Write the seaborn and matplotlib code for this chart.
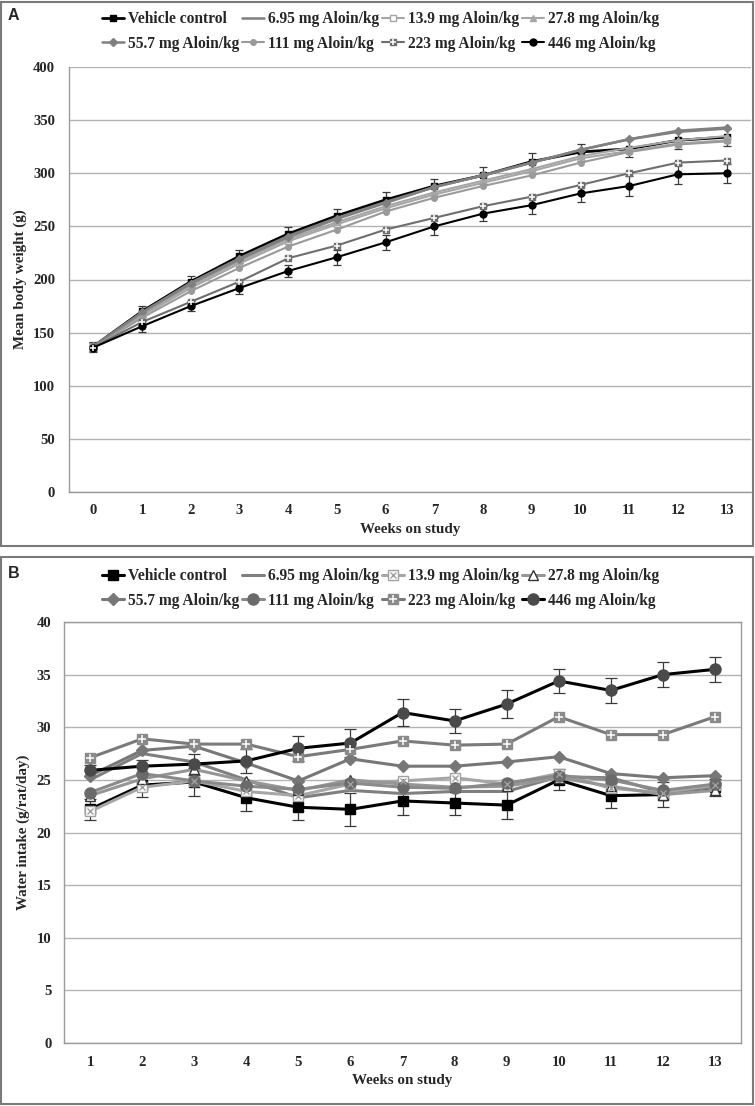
import matplotlib
matplotlib.use("Agg")
import matplotlib.pyplot as plt
import seaborn as sns
from matplotlib.patches import Rectangle
from matplotlib.legend_handler import HandlerTuple

# ---------------- data ----------------
groups = ["Vehicle control", "6.95 mg Aloin/kg", "13.9 mg Aloin/kg", "27.8 mg Aloin/kg",
          "55.7 mg Aloin/kg", "111 mg Aloin/kg", "223 mg Aloin/kg", "446 mg Aloin/kg"]

weeks_a = [0, 1, 2, 3, 4, 5, 6, 7, 8, 9, 10, 11, 12, 13]
bw_vehicle = [137, 170, 198, 222, 243, 260, 275, 288, 298, 311, 320, 323, 331, 334]
bw_695 = [137, 169, 197, 220, 241, 258, 273, 287, 298, 310, 322, 332, 339, 342]
bw_139 = [137, 166, 192, 215, 236, 252, 267, 280, 291, 302, 314, 321, 328, 331]
bw_278 = [137, 167, 194, 217, 238, 254, 269, 282, 293, 304, 316, 324, 331, 335]
bw_557 = [137, 169, 196, 219, 240, 257, 272, 287, 298, 310, 322, 332, 340, 343]
bw_111 = [136, 164, 189, 211, 231, 247, 264, 277, 288, 298, 310, 320, 327, 330]
bw_223 = [136, 160, 179, 198, 220, 232, 247, 258, 269, 278, 289, 300, 310, 312]
bw_446 = [136, 156, 175, 192, 208, 221, 235, 250, 262, 270, 281, 288, 299, 300]
bw_sem_vehicle = [4, 5, 5, 6, 6, 6, 7, 7, 8, 8, 8, 8, 8, 8]
bw_sem_446 = [4, 5, 5, 6, 6, 7, 7, 8, 7, 8, 8, 9, 9, 9]

weeks_b = [1, 2, 3, 4, 5, 6, 7, 8, 9, 10, 11, 12, 13]
wi_vehicle = [22.2, 24.5, 24.8, 23.3, 22.4, 22.2, 23.0, 22.8, 22.6, 25.0, 23.5, 23.6, 24.3]
wi_695 = [25.0, 27.5, 26.7, 25.0, 23.3, 24.0, 23.7, 23.9, 23.9, 25.3, 25.2, 23.8, 24.3]
wi_139 = [22.0, 24.3, 24.9, 23.9, 23.5, 24.6, 24.9, 25.2, 24.6, 25.6, 24.2, 23.8, 24.5]
wi_278 = [23.5, 25.1, 26.0, 24.9, 24.0, 25.0, 24.6, 24.3, 24.4, 25.2, 24.4, 23.6, 24.0]
wi_557 = [25.4, 27.8, 28.2, 26.6, 24.9, 27.0, 26.3, 26.3, 26.7, 27.2, 25.6, 25.2, 25.4]
wi_111 = [23.8, 25.6, 24.9, 24.4, 24.1, 24.7, 24.3, 24.2, 24.7, 25.4, 25.0, 24.0, 24.6]
wi_223 = [27.1, 28.9, 28.4, 28.4, 27.2, 27.9, 28.7, 28.3, 28.4, 31.0, 29.3, 29.3, 31.0]
wi_446 = [25.9, 26.3, 26.5, 26.8, 28.0, 28.5, 31.4, 30.6, 32.2, 34.4, 33.5, 35.0, 35.5]
wi_sem_vehicle = [1.0, 1.1, 1.3, 1.3, 1.2, 1.6, 1.3, 1.1, 1.3, 1.0, 1.2, 1.2, 0.8]
wi_sem_446 = [0.5, 0.6, 1.0, 1.1, 1.2, 1.3, 1.3, 1.1, 1.3, 1.1, 1.2, 1.2, 1.2]

yticks_a = [0, 50, 100, 150, 200, 250, 300, 350, 400]
yticks_b = [0, 5, 10, 15, 20, 25, 30, 35, 40]

# ---------------- style ----------------
sns.set_style("white")
plt.rcParams["font.family"] = ["Liberation Serif", "DejaVu Serif"]
plt.rcParams["font.weight"] = "bold"

GRID = "#b3b3b3"
SPINE = "#9a9a9a"

fig = plt.figure(figsize=(7.55, 11.06), dpi=100)
W, H = 755.0, 1106.0

def fx(px):
    return px / W

def fy(py):
    return 1 - py / H

axA = fig.add_axes([fx(69), fy(492), fx(751) - fx(69), (492 - 67) / H])
axB = fig.add_axes([fx(64), fy(1043), fx(741) - fx(64), (1043 - 622) / H])

# panel frames
fig.patches.append(Rectangle((fx(1), fy(546)), fx(752), (546 - 2) / H, transform=fig.transFigure,
                             fill=False, edgecolor="#7a7a7a", lw=1.5))
fig.patches.append(Rectangle((fx(1), fy(1104)), fx(752), (1104 - 557) / H, transform=fig.transFigure,
                             fill=False, edgecolor="#7a7a7a", lw=1.5))


def style_a():
    return [
        dict(color="black", lw=2.0, marker="s", ms=4, mfc="black", mec="black"),
        dict(color="#7f7f7f", lw=1.8, marker=None),
        dict(color="#a6a6a6", lw=1.5, marker="s", ms=4, mfc="white", mec="#a6a6a6"),
        dict(color="#a6a6a6", lw=1.5, marker="^", ms=4, mfc="#a6a6a6", mec="#a6a6a6"),
        dict(color="#808080", lw=1.8, marker="D", ms=4, mfc="#808080", mec="#808080"),
        dict(color="#9a9a9a", lw=1.5, marker="o", ms=4, mfc="#9a9a9a", mec="#9a9a9a"),
        dict(color="#6e6e6e", lw=1.5, marker="s", ms=5, mfc="#6e6e6e", mec="#6e6e6e"),
        dict(color="black", lw=1.5, marker="o", ms=5, mfc="black", mec="black"),
    ]


def style_b():
    return [
        dict(color="black", lw=2.2, marker="s", ms=7, mfc="black", mec="black"),
        dict(color="#7f7f7f", lw=2.2, marker=None),
        dict(color="#a6a6a6", lw=2.2, marker="s", ms=7, mfc="white", mec="#a0a0a0"),
        dict(color="#969696", lw=2.2, marker="^", ms=7, mfc="white", mec="#333333"),
        dict(color="#777777", lw=2.2, marker="D", ms=6, mfc="#777777", mec="#777777"),
        dict(color="#8a8a8a", lw=2.2, marker="o", ms=8, mfc="#6a6a6a", mec="#6a6a6a"),
        dict(color="#7a7a7a", lw=2.2, marker="s", ms=7, mfc="#8a8a8a", mec="#8a8a8a"),
        dict(color="black", lw=2.2, marker="o", ms=8, mfc="#4a4a4a", mec="#4a4a4a"),
    ]


def draw(ax, weeks, series, styles, sems, cap, plus_ms, x_on_139):
    order = [1, 2, 3, 4, 5, 6, 0, 7]
    hmap = {}
    for i in order:
        st = dict(styles[i])
        marker = st.pop("marker")
        kw = dict(color=st["color"], linewidth=st["lw"])
        if marker is not None:
            kw.update(marker=marker, markersize=st["ms"], markerfacecolor=st["mfc"],
                      markeredgecolor=st["mec"], markeredgewidth=1.0)
        sns.lineplot(x=weeks, y=series[i], ax=ax, label=groups[i], zorder=3 + i * 0.1, **kw)
        hmap[i] = ax.get_lines()[-1]
    # white plus overlay for the 223 mg markers
    plus = ax.plot(weeks, series[6], linestyle="none", marker="+", markersize=plus_ms,
                   markeredgecolor="white", markeredgewidth=1.1, zorder=4)[0]
    hmap[6] = (hmap[6], plus)
    if x_on_139:
        xo = ax.plot(weeks, series[2], linestyle="none", marker="x", markersize=4,
                     markeredgecolor="#a0a0a0", markeredgewidth=1.0, zorder=4)[0]
        hmap[2] = (hmap[2], xo)
    # error bars
    for idx, sem in sems:
        ax.errorbar(weeks, series[idx], yerr=sem, fmt="none", ecolor="#3a3a3a",
                    elinewidth=0.9, capsize=cap, capthick=0.9, zorder=2.5)
    leg = ax.get_legend()
    if leg is not None:
        leg.remove()
    return [hmap[i] for i in range(8)]


hA = draw(axA, weeks_a, [bw_vehicle, bw_695, bw_139, bw_278, bw_557, bw_111, bw_223, bw_446],
          style_a(), [(0, bw_sem_vehicle), (7, bw_sem_446)], cap=3, plus_ms=4, x_on_139=False)
hB = draw(axB, weeks_b, [wi_vehicle, wi_695, wi_139, wi_278, wi_557, wi_111, wi_223, wi_446],
          style_b(), [(0, wi_sem_vehicle), (7, wi_sem_446)], cap=4, plus_ms=6, x_on_139=True)

TICK_FS = 10.6
LABEL_FS = 10.8

for ax, weeks, yt, ylim, xlim, ylabel in [
    (axA, weeks_a, yticks_a, (0, 400), (-0.5, 13.5), "Mean body weight (g)"),
    (axB, weeks_b, yticks_b, (0, 40), (0.5, 13.5), "Water intake (g/rat/day)"),
]:
    ax.set_xlim(*xlim)
    ax.set_ylim(*ylim)
    ax.set_yticks(yt)
    ax.set_yticklabels([str(v) for v in yt], fontsize=TICK_FS, fontweight="bold")
    ax.set_xticks(weeks)
    ax.set_xticklabels([str(w) for w in weeks], fontsize=TICK_FS, fontweight="bold")
    ax.grid(axis="y", color=GRID, lw=1.0)
    ax.set_axisbelow(True)
    ax.set_xlabel("Weeks on study", fontsize=LABEL_FS, fontweight="bold", labelpad=4)
    ax.set_ylabel(ylabel, fontsize=LABEL_FS, fontweight="bold")
    ax.tick_params(axis="x", which="major", length=0, pad=9)
    ax.tick_params(axis="y", which="major", length=0)
    for s in ax.spines.values():
        s.set_color(SPINE)
        s.set_linewidth(1.0)

# panel A: open top/right, tick marks between categories
axA.spines["top"].set_visible(False)
axA.spines["right"].set_visible(False)
axA.set_xticks([w - 0.5 for w in weeks_a] + [13.5], minor=True)
axA.tick_params(axis="x", which="minor", length=5, color=SPINE, width=1.0, direction="out")
axA.tick_params(axis="y", pad=10)
axA.yaxis.set_label_coords(-0.062, 0.5)
axB.tick_params(axis="y", pad=9)
axB.yaxis.set_label_coords(-0.050, 0.5)

# legends (row-major order in 4 columns)
perm = [0, 4, 1, 5, 2, 6, 3, 7]
for handles, top_px in [(hA, 11), (hB, 568)]:
    fig.legend([handles[i] for i in perm], [groups[i] for i in perm], ncol=4,
               loc="upper left", bbox_to_anchor=(fx(102), fy(top_px)),
               bbox_transform=fig.transFigure, frameon=False, borderpad=0,
               borderaxespad=0, handlelength=1.4, handletextpad=0.3,
               columnspacing=0.15, labelspacing=0.55,
               prop=dict(family=["Liberation Serif"], weight="bold", size=11.2),
               handler_map={tuple: HandlerTuple(ndivide=1, pad=0)})

fig.text(fx(8), fy(16), "A", fontsize=11.5, fontweight="bold", family=["Liberation Sans"],
         ha="left", va="center")
fig.text(fx(8), fy(574), "B", fontsize=11.5, fontweight="bold", family=["Liberation Sans"],
         ha="left", va="center")

fig.savefig("out.png", dpi=100)
